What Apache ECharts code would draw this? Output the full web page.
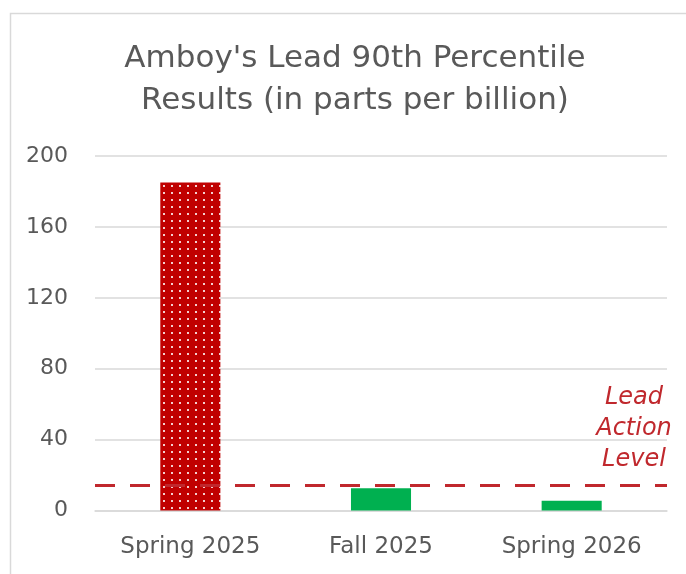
<!DOCTYPE html>
<html>
<head>
<meta charset="utf-8">
<script src="https://cdn.jsdelivr.net/npm/echarts@6/dist/echarts.min.js"></script>
<style>
  html, body { margin: 0; padding: 0; background: #ffffff; }
  #chart { width: 686px; height: 574px; }
</style>
</head>
<body>
<div id="chart"></div>
<script>
// ---- data ----
const categories = ['Spring 2025', 'Fall 2025', 'Spring 2026'];
const leadValues = [185, 12.5, 5.5];
const actionLevel = 14;
const yTicks = { min: 0, max: 200, interval: 40 };
const titleText = "Amboy's Lead 90th Percentile\nResults (in parts per billion)";
const annotationText = 'Lead\nAction\nLevel';

// ---- styling ----
const FONT = 'DejaVu Sans';
const GREY = '#595959';
const RED = '#c00000';
const GREEN = '#00b050';
const DASH_RED = '#c0282d';

function dottedPattern() {
  const c = document.createElement('canvas');
  c.width = 8; c.height = 7;
  const ctx = c.getContext('2d');
  ctx.fillStyle = RED;
  ctx.fillRect(0, 0, 8, 7);
  ctx.fillStyle = '#f3d0d0';
  ctx.fillRect(3, 3, 2, 2);
  return c;
}

const barColors = [{ image: dottedPattern(), repeat: 'repeat' }, GREEN, GREEN];
const barData = leadValues.map((v, i) => ({ value: v, itemStyle: { color: barColors[i] } }));

const chart = echarts.init(document.getElementById('chart'), null, { renderer: 'canvas' });
chart.setOption({
  backgroundColor: '#ffffff',
  animation: false,
  title: {
    text: titleText,
    left: 350,
    textAlign: 'center',
    top: 33,
    textStyle: {
      fontFamily: FONT,
      fontSize: 31,
      fontWeight: 'normal',
      color: GREY,
      lineHeight: 42
    }
  },
  grid: { left: 95, right: 19, top: 156, bottom: 63.5, containLabel: false },
  xAxis: {
    type: 'category',
    data: categories,
    axisLine: { show: true, lineStyle: { color: '#d9d9d9', width: 1.5 } },
    axisTick: { show: false },
    axisLabel: { fontFamily: FONT, fontSize: 23, color: GREY, margin: 25 }
  },
  yAxis: {
    type: 'value',
    min: yTicks.min,
    max: yTicks.max,
    interval: yTicks.interval,
    axisLine: { show: false },
    axisTick: { show: false },
    splitLine: { lineStyle: { color: '#d9d9d9', width: 1.5 } },
    axisLabel: { fontFamily: FONT, fontSize: 22, color: GREY, margin: 27 }
  },
  series: [{
    type: 'bar',
    data: barData,
    barWidth: '31.5%',
    markLine: {
      silent: true,
      symbol: 'none',
      label: { show: false },
      lineStyle: { type: [20, 15], width: 3, color: DASH_RED },
      data: [{ yAxis: actionLevel }]
    }
  }],
  graphic: [
    {
      type: 'rect',
      left: 8, top: 11,
      shape: { width: 720, height: 620 },
      style: { fill: 'none', stroke: '#d9d9d9', lineWidth: 1.5 },
      silent: true,
      z: -1
    },
    {
      type: 'text',
      x: 634,
      y: 382,
      style: {
        text: annotationText,
        fontFamily: FONT,
        fontStyle: 'italic',
        fontSize: 24,
        lineHeight: 31,
        fill: DASH_RED,
        textAlign: 'center',
        textVerticalAlign: 'top'
      }
    }
  ]
});
</script>
</body>
</html>
